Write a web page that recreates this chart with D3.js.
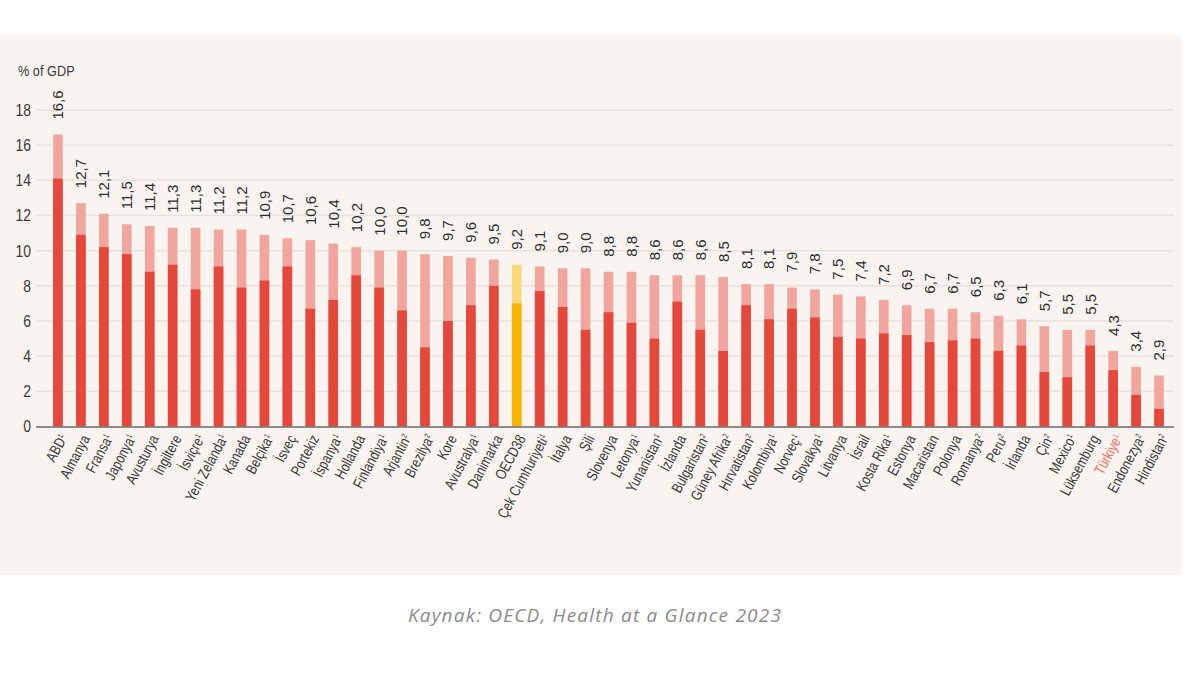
<!DOCTYPE html>
<html><head><meta charset="utf-8">
<script src="https://cdn.jsdelivr.net/npm/d3@7/dist/d3.min.js"></script>
<style>
html,body{margin:0;padding:0;background:#fff;}
svg{display:block;}
</style></head>
<body>
<svg id="chart" width="1200" height="675"></svg>
<script>
const countries = ["ABD","Almanya","Fransa","Japonya","Avusturya","İngiltere","İsviçre","Yeni Zelanda","Kanada","Belçika","İsveç","Portekiz","İspanya","Hollanda","Finlandiya","Arjantin","Brezilya","Kore","Avustralya","Danimarka","OECD38","Çek Cumhuriyeti","İtalya","Şili","Slovenya","Letonya","Yunanistan","İzlanda","Bulgaristan","Güney Afrika","Hırvatistan","Kolombiya","Norveç","Slovakya","Litvanya","İsrail","Kosta Rika","Estonya","Macaristan","Polonya","Romanya","Peru","İrlanda","Çin","Mexico","Lüksemburg","Türkiye","Endonezya","Hindistan"];
const notes = ["1","","1","1","","","1","1","","1","","","1","","1","2","2","","1","","","1","","","","1","1","","2","2","2","1","1","1","","","1","","","","2","2","","2","1","","1","2","2"];
const totalSpending = [16.6,12.7,12.1,11.5,11.4,11.3,11.3,11.2,11.2,10.9,10.7,10.6,10.4,10.2,10.0,10.0,9.8,9.7,9.6,9.5,9.2,9.1,9.0,9.0,8.8,8.8,8.6,8.6,8.6,8.5,8.1,8.1,7.9,7.8,7.5,7.4,7.2,6.9,6.7,6.7,6.5,6.3,6.1,5.7,5.5,5.5,4.3,3.4,2.9];
const governmentSpending = [14.1,10.9,10.2,9.8,8.8,9.2,7.8,9.1,7.9,8.3,9.1,6.7,7.2,8.6,7.9,6.6,4.5,6.0,6.9,8.0,7.0,7.7,6.8,5.5,6.5,5.9,5.0,7.1,5.5,4.3,6.9,6.1,6.7,6.2,5.1,5.0,5.3,5.2,4.8,4.9,5.0,4.3,4.6,3.1,2.8,4.6,3.2,1.8,1.0];
const yTicks = [0,2,4,6,8,10,12,14,16,18];
const highlight = "OECD38";
const redLabel = "Türkiye";

const data = countries.map((c,i)=>({name:c, note:notes[i], total:totalSpending[i], gov:governmentSpending[i]}));

const svg = d3.select("#chart");
svg.append("rect").attr("x",0).attr("y",35).attr("width",1182).attr("height",540).attr("fill","#f9f4f0");

const x = d3.scaleBand().domain(countries).range([46.5,1170.5]).paddingInner(0.58).paddingOuter(0.29);
const y = d3.scaleLinear().domain([0,18]).range([426.5,110]);

svg.append("g").selectAll("line").data(yTicks.filter(t=>t>0)).join("line")
  .attr("x1",36).attr("x2",1174).attr("y1",d=>y(d)).attr("y2",d=>y(d))
  .attr("stroke","#e8e1dc").attr("stroke-width",1.5);

const yAxis = d3.axisLeft(y).tickValues(yTicks).tickSize(0).tickPadding(0);
const yg = svg.append("g").attr("transform","translate(31,0)").call(yAxis);
yg.select(".domain").remove();
yg.selectAll("text").attr("font-family","Arial,'Liberation Sans',sans-serif")
  .attr("font-size",17).attr("fill","#3a3a3a").attr("transform","scale(0.82,1)");

svg.append("text").attr("transform","translate(18,76) scale(0.85,1)").text("% of GDP")
  .attr("font-family","Arial,'Liberation Sans',sans-serif")
  .attr("font-size",15).attr("fill","#3a3a3a");

const bars = svg.append("g");
bars.selectAll("rect.tot").data(data).join("rect").attr("class","tot")
  .attr("x",d=>x(d.name)).attr("width",x.bandwidth())
  .attr("y",d=>y(d.total)).attr("height",d=>y(0)-y(d.total))
  .attr("fill",d=>d.name===highlight?"#f8d877":"#f2a59c");
bars.selectAll("rect.gov").data(data).join("rect").attr("class","gov")
  .attr("x",d=>x(d.name)).attr("width",x.bandwidth())
  .attr("y",d=>y(d.gov)).attr("height",d=>y(0)-y(d.gov))
  .attr("fill",d=>d.name===highlight?"#f4b400":"#e5473a");

svg.append("line").attr("x1",36).attr("x2",1174).attr("y1",y(0)+0.5).attr("y2",y(0)+0.5)
  .attr("stroke","#6b6b6b").attr("stroke-width",1.5);

const fmt = v => d3.format(".1f")(v).replace(".",",");
svg.append("g").selectAll("text").data(data).join("text")
  .attr("transform",d=>`translate(${x(d.name)+x.bandwidth()/2},${y(d.total)-15}) rotate(-90)`)
  .attr("dy","0.36em").attr("text-anchor","start")
  .attr("font-family","Arial,'Liberation Sans',sans-serif").attr("font-size",15)
  .attr("fill","#2e2e2e").text(d=>fmt(d.total));

const xl = svg.append("g").selectAll("text").data(data).join("text")
  .attr("transform",d=>`translate(${x(d.name)+x.bandwidth()/2+5},${y(0)+9}) rotate(-62) scale(0.8,1)`)
  .attr("text-anchor","end").attr("dy","0.35em")
  .attr("font-family","Arial,'Liberation Sans',sans-serif")
  .attr("font-size",15)
  .attr("fill",d=>d.name===redLabel?"#ef6a5c":"#3a3a3a");
xl.append("tspan").text(d=>d.name);
xl.append("tspan").attr("font-size",8).attr("dy","-0.6em").text(d=>d.note? d.note : "\u200a");

svg.append("text").attr("x",595).attr("y",622).attr("text-anchor","middle")
  .attr("font-family","'Open Sans',Lato,sans-serif").attr("font-style","italic")
  .attr("font-size",19).attr("letter-spacing",1.2).attr("fill","#8a8a8a")
  .text("Kaynak: OECD, Health at a Glance 2023");
</script>
</body></html>
